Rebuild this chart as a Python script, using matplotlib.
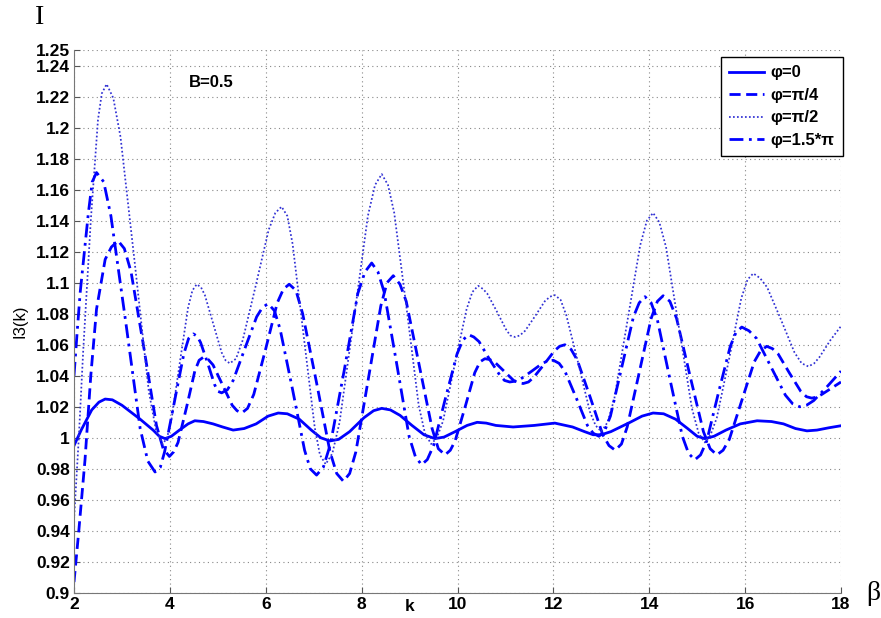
import numpy as np
import matplotlib
matplotlib.use('Agg')
import matplotlib.pyplot as plt
from matplotlib.ticker import FuncFormatter

# curve readings (k, I3(k))
k_phi0 = [2.0, 2.15, 2.37, 2.52, 2.65, 2.8, 3.0, 3.38, 3.65, 3.78,
          3.9, 4.03, 4.2, 4.38, 4.52, 4.7, 4.9, 5.1, 5.32, 5.55,
          5.8, 6.05, 6.26, 6.45, 6.7, 6.95, 7.15, 7.34, 7.52, 7.75,
          8.05, 8.25, 8.42, 8.6, 8.8, 9.05, 9.3, 9.53, 9.72, 9.95,
          10.2, 10.41, 10.6, 10.8, 11.16, 11.6, 12.03, 12.4, 12.65, 12.83,
          13.0, 13.2, 13.6, 13.85, 14.08, 14.3, 14.55, 14.8, 15.0, 15.16,
          15.35, 15.6, 15.9, 16.25, 16.55, 16.8, 17.05, 17.29, 17.5, 17.75, 18.0]
i_phi0 = [0.995, 1.005, 1.018, 1.023, 1.025, 1.0245, 1.021, 1.012, 1.005, 1.001,
          0.9995, 1.001, 1.005, 1.009, 1.011, 1.0105, 1.009, 1.007, 1.005, 1.006,
          1.009, 1.014, 1.016, 1.0155, 1.012, 1.005, 1.0, 0.998, 0.999, 1.004,
          1.013, 1.0175, 1.019, 1.018, 1.0145, 1.008, 1.002, 0.9995, 1.0005, 1.004,
          1.008, 1.010, 1.0095, 1.008, 1.007, 1.008, 1.0095, 1.007, 1.004, 1.002,
          1.002, 1.004, 1.010, 1.014, 1.016, 1.0155, 1.012, 1.006, 1.001, 0.9995,
          1.001, 1.005, 1.009, 1.011, 1.0105, 1.009, 1.006, 1.0045, 1.005, 1.0065, 1.0078]

k_phi_q = [2.0, 2.1, 2.23, 2.35, 2.47, 2.65, 2.78, 2.92, 3.05, 3.19,
           3.46, 3.72, 3.86, 3.99, 4.08, 4.17, 4.35, 4.52, 4.61, 4.70,
           4.8, 4.9, 5.1, 5.3, 5.4, 5.5, 5.62, 5.75, 6.0, 6.24,
           6.37, 6.49, 6.63, 6.77, 7.06, 7.34, 7.48, 7.62, 7.75, 7.88,
           8.14, 8.40, 8.53, 8.66, 8.8, 8.93, 9.2, 9.47, 9.6, 9.74,
           9.85, 9.95, 10.16, 10.36, 10.47, 10.57, 10.67, 10.77, 10.97, 11.17,
           11.27, 11.37, 11.48, 11.59, 11.81, 12.02, 12.13, 12.24, 12.37, 12.5,
           12.77, 13.03, 13.16, 13.29, 13.42, 13.54, 13.79, 14.04, 14.17, 14.29,
           14.43, 14.57, 14.85, 15.13, 15.27, 15.41, 15.54, 15.67, 15.93, 16.19,
           16.32, 16.45, 16.57, 16.69, 16.92, 17.16, 17.28, 17.39, 17.5, 17.6,
           17.8, 18.0]
i_phi_q = [0.907, 0.94, 0.986, 1.04, 1.083, 1.115, 1.123, 1.127, 1.122, 1.107,
           1.0575, 1.008, 0.993, 0.988, 0.991, 0.997, 1.02, 1.043, 1.05, 1.052,
           1.0505, 1.047, 1.034, 1.021, 1.0175, 1.016, 1.019, 1.028, 1.0575, 1.087,
           1.096, 1.099, 1.095, 1.080, 1.0355, 0.991, 0.977, 0.972, 0.977, 0.991,
           1.038, 1.085, 1.1, 1.1045, 1.099, 1.088, 1.047, 1.006, 0.993, 0.989,
           0.992, 0.998, 1.02, 1.042, 1.049, 1.051, 1.0505, 1.049, 1.043, 1.037,
           1.0355, 1.035, 1.036, 1.039, 1.0475, 1.056, 1.059, 1.06, 1.057, 1.05,
           1.026, 1.002, 0.995, 0.992, 0.996, 1.007, 1.042, 1.077, 1.088, 1.0916,
           1.088, 1.077, 1.04, 1.004, 0.993, 0.989, 0.992, 0.999, 1.024, 1.049,
           1.056, 1.059, 1.0575, 1.054, 1.042, 1.030, 1.0265, 1.0256, 1.0263, 1.028,
           1.032, 1.036]

k_phi_h = [2.0, 2.1, 2.19, 2.35, 2.5, 2.58, 2.68, 2.82, 2.97, 3.27,
           3.56, 3.71, 3.85, 3.94, 4.03, 4.2, 4.38, 4.47, 4.56, 4.65,
           4.73, 4.9, 5.08, 5.16, 5.25, 5.38, 5.52, 5.79, 6.06, 6.2,
           6.33, 6.45, 6.56, 6.79, 7.02, 7.13, 7.25, 7.39, 7.54, 7.84,
           8.13, 8.28, 8.42, 8.55, 8.68, 8.94, 9.19, 9.32, 9.45, 9.57,
           9.7, 9.94, 10.19, 10.31, 10.43, 10.53, 10.62, 10.82, 11.01, 11.1,
           11.2, 11.3, 11.41, 11.62, 11.82, 11.93, 12.03, 12.15, 12.27, 12.52,
           12.76, 12.88, 13.0, 13.13, 13.27, 13.54, 13.81, 13.95, 14.08, 14.21,
           14.35, 14.62, 14.89, 15.03, 15.16, 15.28, 15.41, 15.67, 15.92, 16.05,
           16.17, 16.31, 16.46, 16.75, 17.03, 17.18, 17.32, 17.44, 17.55, 17.78,
           18.0]
i_phi_h = [0.947, 1.0, 1.055, 1.14, 1.205, 1.222, 1.228, 1.219, 1.194, 1.112,
           1.030, 1.005, 0.996, 1.0, 1.011, 1.047, 1.084, 1.095, 1.099, 1.097,
           1.092, 1.074, 1.055, 1.050, 1.048, 1.051, 1.063, 1.098, 1.134, 1.145,
           1.149, 1.143, 1.125, 1.066, 1.007, 0.989, 0.983, 0.990, 1.010, 1.077,
           1.143, 1.163, 1.170, 1.163, 1.145, 1.083, 1.021, 1.003, 0.996, 1.0,
           1.011, 1.047, 1.083, 1.094, 1.098, 1.096, 1.093, 1.0815, 1.07, 1.066,
           1.065, 1.066, 1.069, 1.0785, 1.088, 1.091, 1.092, 1.089, 1.079, 1.048,
           1.017, 1.008, 1.004, 1.01, 1.025, 1.0745, 1.124, 1.14, 1.145, 1.139,
           1.123, 1.071, 1.019, 1.003, 0.997, 1.002, 1.013, 1.0515, 1.090, 1.102,
           1.106, 1.103, 1.097, 1.076, 1.055, 1.048, 1.046, 1.048, 1.052, 1.063,
           1.072]

k_phi_15 = [2.0, 2.07, 2.13, 2.3, 2.38, 2.47, 2.62, 2.77, 3.08, 3.38,
            3.54, 3.69, 3.8, 3.89, 4.09, 4.29, 4.39, 4.49, 4.57, 4.64,
            4.79, 4.93, 5.0, 5.08, 5.2, 5.32, 5.57, 5.81, 5.93, 6.05,
            6.18, 6.30, 6.56, 6.81, 6.93, 7.06, 7.2, 7.35, 7.64, 7.92,
            8.07, 8.21, 8.34, 8.47, 8.73, 8.99, 9.12, 9.25, 9.37, 9.5,
            9.74, 9.99, 10.11, 10.23, 10.34, 10.45, 10.66, 10.88, 10.98, 11.09,
            11.2, 11.32, 11.55, 11.77, 11.88, 12.0, 12.12, 12.24, 12.48, 12.71,
            12.83, 12.95, 13.07, 13.19, 13.43, 13.67, 13.79, 13.91, 14.04, 14.17,
            14.43, 14.69, 14.82, 14.95, 15.07, 15.2, 15.44, 15.69, 15.81, 15.93,
            16.08, 16.24, 16.54, 16.84, 16.99, 17.14, 17.28, 17.43, 17.71, 18.0]
i_phi_15 = [1.04, 1.07, 1.094, 1.145, 1.165, 1.171, 1.165, 1.143, 1.0745, 1.006,
            0.985, 0.978, 0.981, 0.991, 1.0225, 1.054, 1.064, 1.067, 1.0655, 1.0615,
            1.048, 1.0345, 1.030, 1.029, 1.031, 1.037, 1.058, 1.078, 1.084, 1.0865,
            1.082, 1.070, 1.031, 0.992, 0.98, 0.976, 0.981, 0.996, 1.044, 1.093,
            1.107, 1.1127, 1.107, 1.094, 1.048, 1.001, 0.988, 0.9826, 0.986, 0.995,
            1.0245, 1.054, 1.063, 1.0665, 1.065, 1.062, 1.051, 1.0405, 1.037, 1.036,
            1.0365, 1.038, 1.043, 1.048, 1.0495, 1.05, 1.048, 1.043, 1.0255, 1.008,
            1.003, 1.001, 1.0045, 1.014, 1.046, 1.078, 1.087, 1.091, 1.087, 1.076,
            1.038, 1.001, 0.99, 0.9858, 0.989, 0.998, 1.0286, 1.059, 1.068, 1.0714,
            1.069, 1.064, 1.0457, 1.0275, 1.022, 1.020, 1.021, 1.024, 1.033, 1.043]

labels = ['\u03c6=0', '\u03c6=\u03c0/4', '\u03c6=\u03c0/2', '\u03c6=1.5*\u03c0']
x_ticks = [2, 4, 6, 8, 10, 12, 14, 16, 18]
y_ticks = [0.9, 0.92, 0.94, 0.96, 0.98, 1.0, 1.02, 1.04, 1.06, 1.08, 1.1,
           1.12, 1.14, 1.16, 1.18, 1.2, 1.22, 1.24, 1.25]

plt.rcParams['font.family'] = ['Liberation Sans', 'DejaVu Sans']

fig = plt.figure(figsize=(8.81, 6.18), dpi=100)
ax = fig.add_axes([0.084, 0.0405, 0.8706, 0.8786])

blue = '#0000ff'
common = dict(solid_joinstyle='round', dash_joinstyle='round')
ax.plot(k_phi0, i_phi0, color=blue, lw=2.0, ls='-', label=labels[0], **common)
ax.plot(k_phi_q, i_phi_q, color=blue, lw=2.0, ls=(0, (4, 2)), label=labels[1], **common)
ax.plot(k_phi_h, i_phi_h, color='#3030d4', lw=1.25, ls=(0, (1, 1.3)), label=labels[2], **common)
ax.plot(k_phi_15, i_phi_15, color=blue, lw=2.0, ls=(0, (5, 2, 1, 2)), label=labels[3], **common)

ax.set_xlim(2, 18)
ax.set_ylim(0.9, 1.25)
ax.set_xticks(x_ticks)
ax.set_yticks(y_ticks)
ax.yaxis.set_major_formatter(FuncFormatter(lambda v, p: '%g' % round(v, 2)))
ax.grid(True, color='#888888', ls=(0, (1, 3)), lw=0.8)
for s in ['top', 'right']:
    ax.spines[s].set_visible(False)
for s in ['left', 'bottom']:
    ax.spines[s].set_color('#777777')
ax.tick_params(direction='in', length=4, color='#555555', labelsize=12.5, pad=3)
for t in ax.get_xticklabels() + ax.get_yticklabels():
    t.set_fontweight('bold')

ax.set_ylabel('I3(k)', fontsize=12, labelpad=6)
ax.text(9.0, 0.896, 'k', fontsize=12.5, fontweight='bold', ha='center', va='top', clip_on=False)
ax.text(4.4, 1.229, 'B=0.5', fontsize=12, fontweight='bold', ha='left', va='center')

fig.text(40 / 881, 1 - 18 / 618, 'I', fontsize=20, family=['Liberation Serif', 'DejaVu Serif'],
         ha='center', va='center')
fig.text(873 / 881, 1 - 594 / 618, '\u03b2', fontsize=20, family=['Liberation Serif', 'DejaVu Serif'],
         ha='center', va='center')

leg = ax.legend(loc='upper right', bbox_to_anchor=(1.0026, 0.987), borderaxespad=0,
                prop={'weight': 'bold', 'size': 12}, fancybox=False, framealpha=1,
                edgecolor='black', handlelength=2.1, borderpad=0.5, labelspacing=0.45,
                handletextpad=0.4)
leg.get_frame().set_linewidth(1.0)

fig.savefig('out.png', dpi=100)
